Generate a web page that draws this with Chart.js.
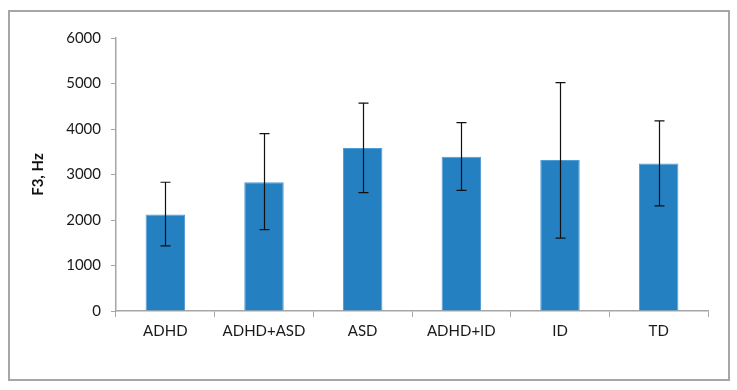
<!DOCTYPE html>
<html lang="en">
<head>
    <meta charset="UTF-8">
    <title>F3 by group</title>
    <style>
        body {
            margin: 0;
            background-color: #fff;
        }
        .frame {
            position: absolute;
            left: 8px;
            top: 10px;
            width: 718px;
            height: 367px;
            border: 2px solid #a6a6a6;
        }
        .chart-box {
            position: absolute;
            left: 0;
            top: 0;
            width: 737px;
            height: 390px;
        }
    </style>
</head>
<body>
    <div class="frame"></div>
    <div class="chart-box">
        <canvas id="f3Chart"></canvas>
    </div>

    <script src="https://cdn.jsdelivr.net/npm/chart.js"></script>
    <script>
        // values
        const groups = ['ADHD', 'ADHD+ASD', 'ASD', 'ADHD+ID', 'ID', 'TD'];
        const meanF3 = [2120, 2830, 3580, 3390, 3320, 3240];
        const errHigh = [2830, 3900, 4570, 4140, 5020, 4180];
        const errLow = [1430, 1790, 2600, 2650, 1600, 2310];
        const yMin = 0;
        const yMax = 6000;
        const yStep = 1000;

        // simple whisker plugin, positions come from the y scale
        const errorBars = {
            id: 'errorBars',
            afterDatasetsDraw(chart) {
                const ctx = chart.ctx;
                const yScale = chart.scales.y;
                const meta = chart.getDatasetMeta(0);
                ctx.save();
                ctx.strokeStyle = '#111';
                ctx.lineWidth = 1.2;
                meta.data.forEach((bar, i) => {
                    const x = Math.round(bar.x) + 0.5;
                    const top = yScale.getPixelForValue(errHigh[i]);
                    const bottom = yScale.getPixelForValue(errLow[i]);
                    ctx.beginPath();
                    ctx.moveTo(x, top);
                    ctx.lineTo(x, bottom);
                    ctx.moveTo(x - 5, top);
                    ctx.lineTo(x + 5, top);
                    ctx.moveTo(x - 5, bottom);
                    ctx.lineTo(x + 5, bottom);
                    ctx.stroke();
                });
                ctx.restore();
            }
        };

        new Chart(document.getElementById('f3Chart'), {
            type: 'bar',
            data: {
                labels: groups,
                datasets: [{
                    data: meanF3,
                    backgroundColor: '#2580c2',
                    borderColor: '#4f9bd6',
                    borderWidth: 1,
                    barPercentage: 0.4,
                    categoryPercentage: 1
                }]
            },
            options: {
                responsive: true,
                maintainAspectRatio: false,
                animation: false,
                layout: {
                    padding: { left: 25, top: 38, right: 29, bottom: 0 }
                },
                plugins: {
                    legend: { display: false },
                    tooltip: { enabled: false }
                },
                scales: {
                    x: {
                        afterFit(scale) { scale.height = 79; },
                        grid: {
                            drawOnChartArea: false,
                            drawTicks: true,
                            tickLength: 6,
                            color: '#a6a6a6'
                        },
                        border: { color: '#a6a6a6', width: 1.5 },
                        ticks: {
                            color: '#1a1a1a',
                            padding: 5,
                            font: { family: 'Lato', size: 15 }
                        }
                    },
                    y: {
                        min: yMin,
                        max: yMax,
                        afterFit(scale) { scale.width = 91; },
                        grid: {
                            drawOnChartArea: false,
                            drawTicks: true,
                            tickLength: 5,
                            color: '#a6a6a6'
                        },
                        border: { color: '#a6a6a6', width: 1.5 },
                        ticks: {
                            stepSize: yStep,
                            color: '#1a1a1a',
                            padding: 10,
                            font: { family: 'Lato', size: 15 },
                            callback: (value) => String(value)
                        },
                        title: {
                            display: true,
                            text: 'F3, Hz',
                            color: '#111',
                            font: { family: 'Lato', size: 15, weight: 'bold' }
                        }
                    }
                }
            },
            plugins: [errorBars]
        });
    </script>
</body>
</html>
